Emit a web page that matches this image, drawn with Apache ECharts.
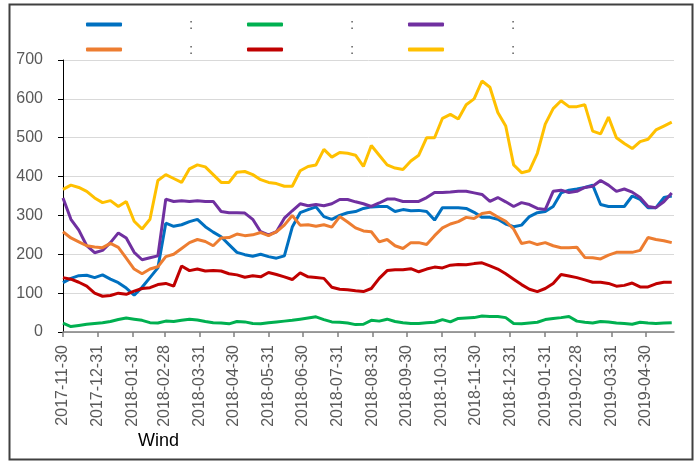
<!DOCTYPE html>
<html>
<head>
<meta charset="utf-8">
<script src="https://cdn.jsdelivr.net/npm/echarts@6/dist/echarts.min.js"></script>
<style>
html,body{margin:0;padding:0;background:#fff;}
#chart{width:699px;height:462px;}
</style>
</head>
<body>
<div id="chart"></div>
<script>
// Sample dates (weekly)
const dates = [
'2017-11-30','2017-12-07','2017-12-14','2017-12-21','2017-12-28',
'2018-01-04','2018-01-11','2018-01-18','2018-01-25','2018-02-01','2018-02-08','2018-02-15','2018-02-22',
'2018-03-01','2018-03-08','2018-03-15','2018-03-22','2018-03-29','2018-04-05','2018-04-12','2018-04-19','2018-04-26',
'2018-05-03','2018-05-10','2018-05-17','2018-05-24','2018-05-31','2018-06-07','2018-06-14','2018-06-21','2018-06-28',
'2018-07-05','2018-07-12','2018-07-19','2018-07-26','2018-08-02','2018-08-09','2018-08-16','2018-08-23','2018-08-30',
'2018-09-06','2018-09-13','2018-09-20','2018-09-27','2018-10-04','2018-10-11','2018-10-18','2018-10-25',
'2018-11-01','2018-11-08','2018-11-15','2018-11-22','2018-11-29','2018-12-06','2018-12-13','2018-12-20','2018-12-27',
'2019-01-03','2019-01-10','2019-01-17','2019-01-24','2019-01-31','2019-02-07','2019-02-14','2019-02-21','2019-02-28',
'2019-03-07','2019-03-14','2019-03-21','2019-03-28','2019-04-04','2019-04-11','2019-04-18','2019-04-25',
'2019-05-02','2019-05-09','2019-05-16','2019-05-23'
];

const tickLabels = ['2017-11-30','2017-12-31','2018-01-31','2018-02-28','2018-03-31','2018-04-30','2018-05-31','2018-06-30','2018-07-31','2018-08-31','2018-09-30','2018-10-31','2018-11-30','2018-12-31','2019-01-31','2019-02-28','2019-03-31','2019-04-30'];

const yTicks = [0,100,200,300,400,500,600,700];

const seriesNames = ['S1','S2','S3','S4','S5','S6'];
const legendLabel = ':';
const sourceLabel = 'Wind';

const blueValues = [127,138,145,146,140,147,136,127,113,95,115,140,165,280,272,276,284,290,271,257,245,225,205,199,195,200,194,190,196,270,307,315,322,297,290,300,307,310,318,322,323,323,310,315,312,313,310,288,320,320,320,318,308,295,295,290,278,271,275,297,307,310,323,358,365,368,372,378,328,323,323,323,350,341,320,320,346,350];
const greenValues = [23,14,17,20,22,24,27,32,36,33,30,24,23,28,27,30,33,31,27,24,23,21,27,26,22,21,24,26,28,30,33,36,39,32,26,25,23,19,20,30,28,33,27,24,22,22,24,25,32,26,35,36,37,41,40,40,37,22,21,23,25,32,35,37,40,28,25,23,27,26,23,22,20,25,23,22,23,24];
const purpleValues = [345,290,262,222,204,210,230,255,242,205,186,191,196,342,336,338,336,338,336,336,310,307,307,306,290,258,250,258,293,312,330,325,328,325,330,341,341,335,330,323,332,342,342,336,336,336,346,359,359,360,362,362,358,354,336,346,335,323,333,328,318,315,362,365,359,362,372,375,390,378,362,368,360,346,323,320,335,358];
const orangeValues = [258,242,232,222,219,217,228,218,190,162,150,162,168,194,200,215,230,238,233,222,242,243,252,248,250,256,248,258,275,300,275,276,272,276,270,297,283,268,260,258,232,238,222,215,230,230,225,248,268,278,284,295,292,305,308,296,285,265,228,232,225,230,222,217,217,218,192,191,188,198,205,205,205,210,243,238,235,230];
const redValues = [140,136,128,118,100,92,94,100,97,105,112,114,122,125,118,170,158,162,157,158,157,150,147,141,145,142,153,148,142,135,152,142,140,138,115,110,109,106,104,112,138,158,160,160,163,155,162,167,165,172,174,173,176,178,170,162,150,136,122,110,104,112,125,148,144,140,134,128,128,125,118,120,126,116,116,124,128,128];
const yellowValues = [367,378,372,362,345,333,338,323,336,285,265,290,390,405,395,385,420,430,425,405,385,385,411,413,405,392,385,382,375,375,415,426,430,470,450,462,460,455,426,480,455,430,422,418,440,455,500,500,550,560,548,585,600,646,630,565,530,430,410,415,460,535,575,595,580,580,585,517,510,553,500,485,472,490,496,520,530,540];

const colors = ['#0070C0','#00B050','#7030A0','#ED7D31','#C00000','#FFC000'];
const valueSets = [blueValues, greenValues, purpleValues, orangeValues, redValues, yellowValues];

const base = Date.UTC(2017,10,30);
function toDay(s){ const p = s.split('-').map(Number); return Math.round((Date.UTC(p[0],p[1]-1,p[2]) - base)/86400000); }
const tickDays = tickLabels.map(toDay);
const labelByDay = {};
tickLabels.forEach((t,i)=>{ labelByDay[tickDays[i]] = t; });
const dayList = dates.map(toDay);

const font = 'Liberation Sans';

const legendPos = [
  {left:86, top:17}, {left:247, top:17}, {left:408, top:17},
  {left:86, top:42}, {left:247, top:42}, {left:408, top:42}
];

const chart = echarts.init(document.getElementById('chart'), null, {renderer:'canvas'});
chart.setOption({
  animation:false,
  backgroundColor:'#fff',
  color: colors,
  grid:{left:63, right:25, top:60, bottom:130, containLabel:false},
  legend: seriesNames.map((n,i)=>({
    data:[n], left:legendPos[i].left, top:legendPos[i].top, padding:0,
    icon:'roundRect', itemWidth:36, itemHeight:4, itemGap:0,
    formatter: ()=> '{c|' + legendLabel + '}',
    textStyle:{fontFamily:font, fontSize:15, color:'#595959',
      rich:{c:{padding:[0,0,0,62], fontFamily:font, fontSize:15, color:'#595959'}}}
  })),
  xAxis:{
    type:'value', min:0, max:541,
    axisLine:{show:true, lineStyle:{color:'#808080', width:1.5}},
    axisTick:{show:true, customValues: tickDays, length:5, inside:false, lineStyle:{color:'#808080', width:1.5}},
    axisLabel:{customValues: tickDays, rotate:90, margin:13, fontFamily:font, fontSize:16, color:'#595959',
      formatter:(v)=> labelByDay[Math.round(v)] || ''},
    splitLine:{show:false}
  },
  yAxis:{
    type:'value', min:yTicks[0], max:yTicks[yTicks.length-1], interval:100,
    axisLine:{show:true, lineStyle:{color:'#000', width:1}},
    axisTick:{show:true, length:5, lineStyle:{color:'#000'}},
    axisLabel:{margin:20, fontFamily:font, fontSize:16, color:'#595959'},
    splitLine:{show:true, lineStyle:{color:'#d9d9d9', width:1}}
  },
  series: seriesNames.map((n,i)=>({
    name:n, type:'line', symbol:'none', showSymbol:false,
    lineStyle:{width:3, color:colors[i]}, itemStyle:{color:colors[i]},
    data: dayList.map((d,k)=>[d, valueSets[i][k]])
  })),
  graphic:[
    {type:'rect', shape:{x:9.5, y:4.5, width:683, height:455}, style:{fill:'none', stroke:'#404040', lineWidth:2}, silent:true, z:100},
    {type:'text', left:138, top:432, style:{text:sourceLabel, font:'18px "Liberation Sans"', fill:'#000'}}
  ]
});
</script>
</body>
</html>
